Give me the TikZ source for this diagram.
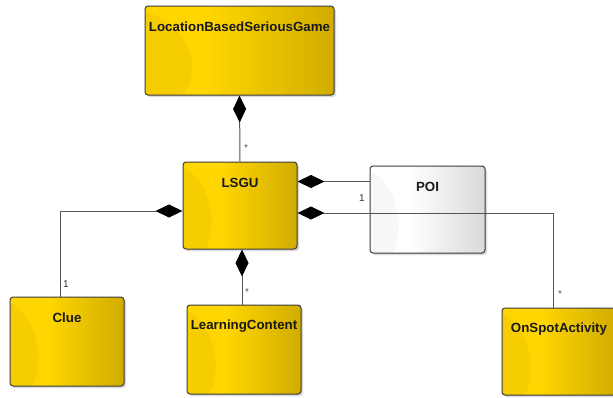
\documentclass[tikz,border=0pt]{standalone}
\usepackage{fontspec}
\setmainfont{Liberation Sans}
\usetikzlibrary{arrows.meta,shadows,calc}
\definecolor{gB}{RGB}{255,214,0}
\definecolor{gC}{RGB}{208,172,0}
\definecolor{gD}{RGB}{150,120,0}
\definecolor{wC}{RGB}{218,218,218}
\definecolor{bordc}{RGB}{60,60,60}
\definecolor{linec}{RGB}{85,85,85}
\definecolor{multc}{RGB}{70,40,90}
\definecolor{starc}{RGB}{70,90,120}
\pgfdeclarehorizontalshading{goldsh}{100bp}{color(0bp)=(gB); color(25bp)=(gB); color(42bp)=(gB); color(75bp)=(gC); color(100bp)=(gC)}
\pgfdeclarehorizontalshading{greysh}{100bp}{color(0bp)=(white); color(25bp)=(white); color(42bp)=(white); color(75bp)=(wC); color(100bp)=(wC)}
\tikzset{
  clsbase/.style={rectangle, rounded corners=3pt, draw=bordc, line width=1pt,
    drop shadow={opacity=0.3, shadow xshift=2pt, shadow yshift=-2pt},
    inner sep=0pt},
  swoosh/.style={path picture={
    \fill[#1] let \p1=(path picture bounding box.north west), \p2=(path picture bounding box.south east) in
      (\x1,{\y1-0.06*(\y1-\y2)}) .. controls ({\x1+0.24*(\x2-\x1)},{\y1-0.25*(\y1-\y2)}) and ({\x1+0.30*(\x2-\x1)},{\y1-0.7*(\y1-\y2)}) .. ({\x1+0.2*(\x2-\x1)},\y2) -- (\x1,\y2) -- cycle;
  }},
  goldcls/.style={clsbase, shading=goldsh, swoosh={gD,opacity=0.09}},
  greycls/.style={clsbase, shading=greysh, swoosh={black,opacity=0.03}},
  ttl/.style={font=\fontsize{13.3}{15}\selectfont\bfseries, text=black!90, anchor=center, label distance=-21.5pt},
  comp/.style={draw=linec, line width=1pt, {Diamond[length=27pt,width=13pt,color=black,fill=black]}-},
  mult/.style={font=\fontsize{10}{11}\selectfont, inner sep=0pt},
}
\begin{document}
\begin{tikzpicture}[x=1pt,y=-1pt]
\useasboundingbox (0,0) rectangle (613,397);
\node[goldcls, minimum width=189pt, minimum height=89pt, label={[ttl]north:LocationBasedSeriousGame}] (lbsg) at (239.5,50.5) {};
\node[goldcls, minimum width=114pt, minimum height=87pt, label={[ttl]north:LSGU}] (lsgu) at (240,205.5) {};
\node[greycls, minimum width=115pt, minimum height=87pt, label={[ttl]north:POI}] (poi) at (427.5,209.5) {};
\node[goldcls, minimum width=114pt, minimum height=89pt, label={[ttl]north:Clue}] (clue) at (67,341.5) {};
\node[goldcls, minimum width=114pt, minimum height=89pt, label={[ttl]north:LearningContent}] (lc) at (244,349.5) {};
\node[goldcls, minimum width=114pt, minimum height=87pt, label={[ttl]north:OnSpotActivity}] (osa) at (559,351.5) {};
% connectors
\draw[comp] (lbsg.south) -- (lsgu.north);
\coordinate (pa) at ($(lsgu.north east)+(0,20)$);
\draw[comp] (pa) -- (pa -| poi.west);
\coordinate (oa) at ($(lsgu.east)+(0,7.5)$);
\coordinate (ob) at ($(osa.north)+(-6,0)$);
\draw[comp] (oa) -| (ob);
\coordinate (ca) at ($(lsgu.west)+(0,5.5)$);
\coordinate (cb) at ($(clue.north)+(-7,0)$);
\draw[comp] (ca) -| (cb);
\coordinate (la) at ($(lsgu.south)+(2,0)$);
\draw[comp] (la) -- (la |- lc.north);
% multiplicities
\node[mult, text=starc] (m1) at (246,148) {*};
\node[mult, text=multc] (m2) at (362,198) {1};
\node[mult, text=black!80] (m3) at (66,284) {1};
\node[mult, text=starc] (m4) at (247,292) {*};
\node[mult, text=starc] (m5) at (560,294) {*};
\end{tikzpicture}
\end{document}
